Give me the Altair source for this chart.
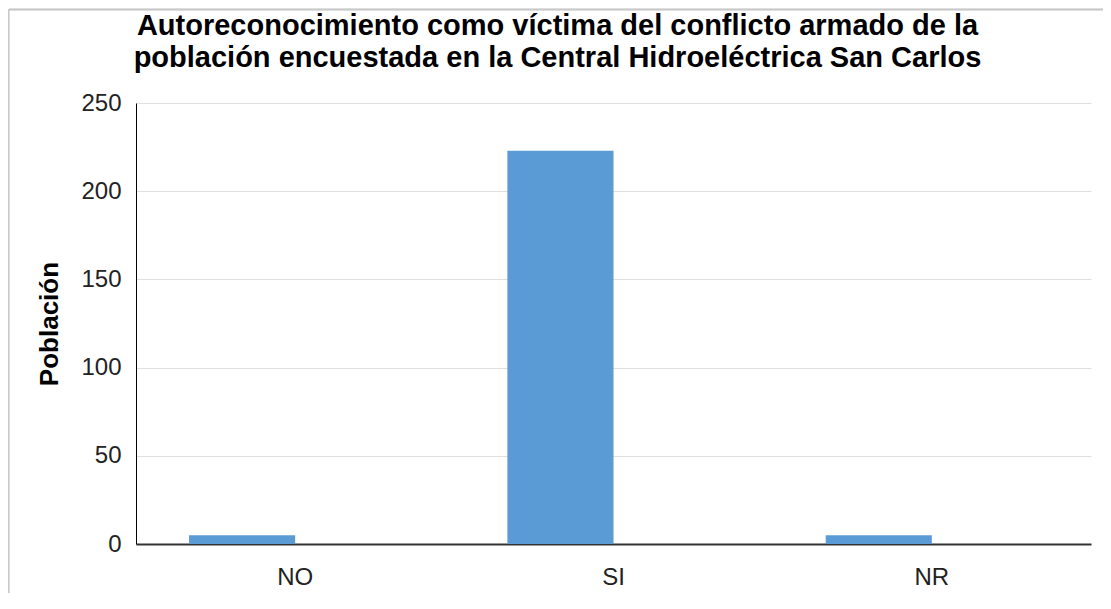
import altair as alt
import pandas as pd

categories = ["NO", "SI", "NR"]
values = [5, 223, 5]
series = ["Población", "Población", "Población"]
series_slots = ["Población", "(vacío)"]
y_ticks = [0, 50, 100, 150, 200, 250]
title_lines = [
    "Autoreconocimiento como víctima del conflicto armado de la",
    "población encuestada en la Central Hidroeléctrica San Carlos",
]

df = pd.DataFrame({"respuesta": categories, "poblacion": values, "serie": series})

bars = alt.Chart(df).mark_bar(color="#5B9BD5").encode(
    x=alt.X(
        "respuesta:N",
        sort=categories,
        scale=alt.Scale(paddingInner=0, paddingOuter=0),
        axis=alt.Axis(
            title=None, labelAngle=0, ticks=False, grid=False,
            domainColor="#333333", domainWidth=2,
            labelPadding=21, labelFontSize=24, labelColor="#222222",
        ),
    ),
    xOffset=alt.XOffset(
        "serie:N",
        scale=alt.Scale(domain=series_slots, paddingInner=0, paddingOuter=0.5),
    ),
    y=alt.Y(
        "poblacion:Q",
        scale=alt.Scale(domain=[0, 250]),
        axis=alt.Axis(
            title="Población", values=y_ticks, ticks=False,
            domainColor="#000000", gridColor="#e0e0e0",
            labelPadding=15, labelFontSize=24, labelColor="#222222",
            titleFontSize=26, titleFontWeight="bold", titleColor="#000000",
            titlePadding=18,
        ),
    ),
)

frame = alt.Chart(df).mark_rule(color="#c8c8c8", strokeWidth=1.5).encode(
    x=alt.value(-127), x2=alt.value(1000), y=alt.value(-93.5)
) + alt.Chart(df).mark_rule(color="#c8c8c8", strokeWidth=1.5).encode(
    x=alt.value(-127.5), y=alt.value(-94), y2=alt.value(520)
)

chart = alt.layer(bars, frame).properties(
    width=955,
    height=441,
    autosize=alt.AutoSizeParams(type="none"),
    padding={"left": 128, "top": 95, "right": 12, "bottom": 49},
    title=alt.TitleParams(
        text=title_lines, fontSize=29, fontWeight="bold", color="#000000",
        anchor="middle", dx=-56, offset=0, dy=65, lineHeight=32,
    ),
).configure(font="Liberation Sans").configure_view(stroke=None)

chart.save("out.html", embed_options={"renderer": "svg", "actions": False})
